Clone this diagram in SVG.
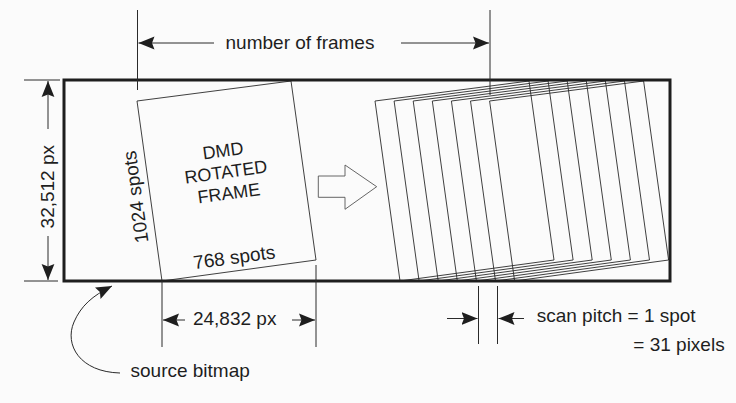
<svg xmlns="http://www.w3.org/2000/svg" width="736" height="403" viewBox="0 0 736 403">
<style>
.bg{fill:#fbfbfb}
.frame{fill:none;stroke:#2a2a2a;stroke-width:0.9}
.dim{fill:none;stroke:#2a2a2a;stroke-width:1}
.src{fill:none;stroke:#1e1e1e;stroke-width:3}
.blk{fill:none;stroke:#555;stroke-width:0.9}
.t{font-family:"Liberation Sans",Arial,sans-serif;font-size:19px;fill:#1e1e1e}
.d{font-family:"Liberation Sans",Arial,sans-serif;font-size:18px;fill:#1e1e1e;text-anchor:middle}
</style>
<defs>
<marker id="ah" markerUnits="userSpaceOnUse" markerWidth="18" markerHeight="14" viewBox="0 0 18 14" refX="16" refY="7" orient="auto">
<path d="M0,0.6 L16,7 L0,13.4 L2.5,7 Z" fill="#1e1e1e"/>
</marker>
<polygon id="fr" points="137,101 291,81 316,260 162,281"/>
</defs>
<rect class="bg" x="0" y="0" width="736" height="403"/>

<g id="frame-stack" class="frame">
<use href="#fr" transform="translate(238,0)"/>
<use href="#fr" transform="translate(257.1,0)"/>
<use href="#fr" transform="translate(276.2,0)"/>
<use href="#fr" transform="translate(295.3,0)"/>
<use href="#fr" transform="translate(314.4,0)"/>
<use href="#fr" transform="translate(333.5,0)"/>
<use href="#fr" transform="translate(352.6,0)"/>
</g>

<g id="dmd-frame">
<use href="#fr" class="frame"/>
<g transform="rotate(-7.8 226.7 178)">
<text class="d" x="226.7" y="156.5">DMD</text>
<text class="d" x="226.7" y="178">ROTATED</text>
<text class="d" x="226.7" y="199.5">FRAME</text>
</g>
<text class="t" text-anchor="middle" transform="translate(142,196) rotate(-97.9)">1024 spots</text>
<text class="t" text-anchor="middle" transform="translate(235,263.7) rotate(-7.8)">768 spots</text>
</g>

<g id="scan-arrow">
<polygon class="blk" points="318.3,176 345,176 345,165 376.7,186.7 345,209.3 345,197.3 318.3,197.3"/>
</g>

<g id="source-bitmap">
<rect class="src" x="64" y="80" width="606" height="201"/>
</g>

<g id="connectors" class="dim">
<line x1="137.5" y1="10" x2="137.5" y2="90"/>
<line x1="490" y1="10" x2="490" y2="95"/>
<line x1="214" y1="43" x2="138.5" y2="43" marker-end="url(#ah)"/>
<line x1="401" y1="43" x2="489" y2="43" marker-end="url(#ah)"/>
<line x1="24" y1="80" x2="60" y2="80"/>
<line x1="24" y1="281" x2="58" y2="281"/>
<line x1="48" y1="129" x2="48" y2="81" marker-end="url(#ah)"/>
<line x1="48" y1="236" x2="48" y2="280" marker-end="url(#ah)"/>
<line x1="162" y1="281" x2="162" y2="347"/>
<line x1="316" y1="265" x2="316" y2="347"/>
<line x1="185" y1="320" x2="163" y2="320" marker-end="url(#ah)"/>
<line x1="292" y1="320" x2="315" y2="320" marker-end="url(#ah)"/>
<line x1="478.5" y1="286" x2="478.5" y2="344"/>
<line x1="497.5" y1="286" x2="497.5" y2="344"/>
<line x1="447" y1="318.5" x2="477.5" y2="318.5" marker-end="url(#ah)"/>
<line x1="524" y1="318.5" x2="498.5" y2="318.5" marker-end="url(#ah)"/>
<path d="M120,373 C80,372 64,345 74,322 C81,306 92,296 112,286" marker-end="url(#ah)"/>
</g>

<g id="labels">
<text class="t" text-anchor="middle" x="300" y="49.3">number of frames</text>
<text class="t" text-anchor="middle" transform="translate(54,186.7) rotate(-90)">32,512 px</text>
<text class="t" text-anchor="middle" x="234.7" y="325">24,832 px</text>
<text class="t" x="130.5" y="376.7">source bitmap</text>
<text class="t" x="536.7" y="321.7">scan pitch = 1 spot</text>
<text class="t" x="633.3" y="351">= 31 pixels</text>
</g>
</svg>
